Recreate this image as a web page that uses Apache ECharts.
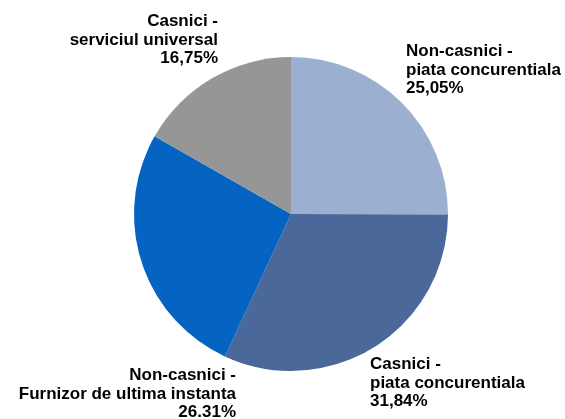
<!DOCTYPE html>
<html>
<head>
<meta charset="utf-8">
<script src="https://cdn.jsdelivr.net/npm/echarts@6/dist/echarts.min.js"></script>
<style>html,body{margin:0;padding:0;background:#fff;}#c{width:565px;height:419px;}</style>
</head>
<body>
<div id="c"></div>
<script>
var categories = [
  "Non-casnici -\npiata concurentiala",
  "Casnici -\npiata concurentiala",
  "Non-casnici -\nFurnizor de ultima instanta",
  "Casnici -\nserviciul universal"
];
var values = [25.05, 31.84, 26.31, 16.75];
var valueLabels = ["25,05%", "31,84%", "26.31%", "16,75%"];
var colors = ["#9BAFD0", "#4A6899", "#0563C1", "#969696"];

var labelPos = [
  {x: 406, y: 70, align: "left"},
  {x: 370, y: 383, align: "left"},
  {x: 236, y: 394, align: "right"},
  {x: 218, y: 40, align: "right"}
];

var chart = echarts.init(document.getElementById('c'), null, {renderer: 'canvas'});
chart.setOption({
  animation: false,
  backgroundColor: '#fff',
  series: [{
    type: 'pie',
    center: [291, 214],
    radius: 157,
    startAngle: 90,
    clockwise: true,
    itemStyle: {borderWidth: 0},
    label: {
      show: true,
      formatter: function (p) { return p.name + "\n" + valueLabels[p.dataIndex]; },
      fontFamily: 'Liberation Sans, Arial, sans-serif',
      fontWeight: 'bold',
      fontSize: 17,
      lineHeight: 18.5,
      color: '#000',
      overflow: 'none',
      width: 400
    },
    labelLine: {show: false},
    labelLayout: function (params) {
      var p = labelPos[params.dataIndex];
      return {x: p.x, y: p.y, align: p.align, verticalAlign: 'middle', hideOverlap: false, moveOverlap: null};
    },
    emphasis: {disabled: true},
    data: categories.map(function (c, i) {
      return {name: c, value: values[i], itemStyle: {color: colors[i]}, label: {align: labelPos[i].align}};
    })
  }]
});
</script>
</body>
</html>
